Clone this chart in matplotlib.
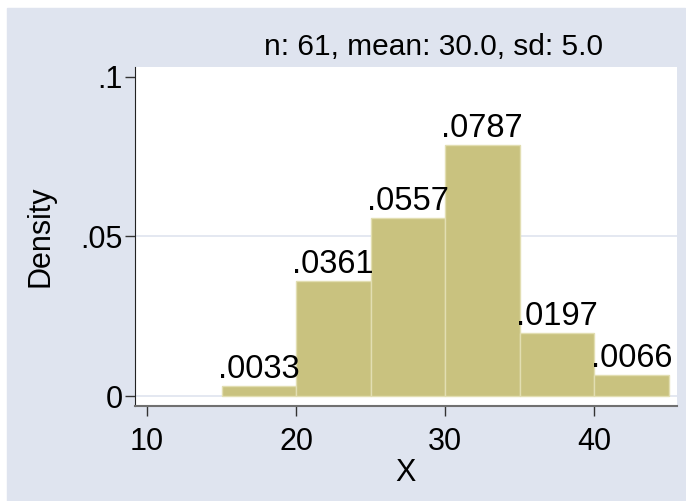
import matplotlib
matplotlib.use("Agg")
import matplotlib.pyplot as plt
from matplotlib.patches import Rectangle

# donnees
bords = [15, 20, 25, 30, 35, 40, 45]
densite = [0.0033, 0.0361, 0.0557, 0.0787, 0.0197, 0.0066]
etiquettes = [".0033", ".0361", ".0557", ".0787", ".0197", ".0066"]
xticks = [10, 20, 30, 40]
yticks = [0, 0.05, 0.1]
ylabels = ["0", ".05", ".1"]
titre = "n: 61, mean: 30.0, sd: 5.0"

fond = "#dfe4ef"
plt.rcParams['font.family'] = ['Liberation Sans', 'DejaVu Sans']

fig = plt.figure(figsize=(6.86, 5.01), dpi=100, facecolor="white")
# zone grise (petite marge blanche en haut et a gauche)
fig.patches.append(Rectangle((7/686, 0), (685-7)/686, 1 - 8/501,
                             transform=fig.transFigure, color=fond, zorder=-1))

ax = fig.add_axes([135/686, 1 - 406/501, (677-135)/686, (406-67)/501])
ax.set_facecolor("white")

# grille
for y in yticks[:2]:
    ax.axhline(y, color=fond, lw=1.2, zorder=0)

largeurs = [bords[i+1] - bords[i] for i in range(len(densite))]
ax.bar(bords[:-1], densite, width=largeurs, align='edge',
       color="#c9c27f", edgecolor="#e2deb2", lw=1.0, zorder=2)

for i in range(len(densite)):
    ax.text(bords[i] + largeurs[i]/2, densite[i] + 0.0003, etiquettes[i],
            ha='center', va='bottom', fontsize=23.5, zorder=3)

ax.set_xlim(9.19, 45.57)
ax.set_ylim(-0.0031, 0.1031)
ax.set_xticks(xticks)
ax.set_yticks(yticks)
ax.set_yticklabels(ylabels)
ax.tick_params(axis='both', labelsize=22, length=7, width=1, color="#333333")
ax.tick_params(axis='x', pad=8)
ax.tick_params(axis='y', pad=2)

for s in ['top', 'right']:
    ax.spines[s].set_visible(False)
ax.spines['left'].set_color("#222222")
ax.spines['bottom'].set_color("#707070")
ax.spines['bottom'].set_linewidth(1.5)

ax.set_xlabel("X", fontsize=22, labelpad=1)
ax.set_ylabel("Density", fontsize=22, labelpad=18)

fig.text(433/686, 1 - 47/501, titre, ha='center', va='center', fontsize=21.5)

fig.savefig("out.png", dpi=100, facecolor="white")
